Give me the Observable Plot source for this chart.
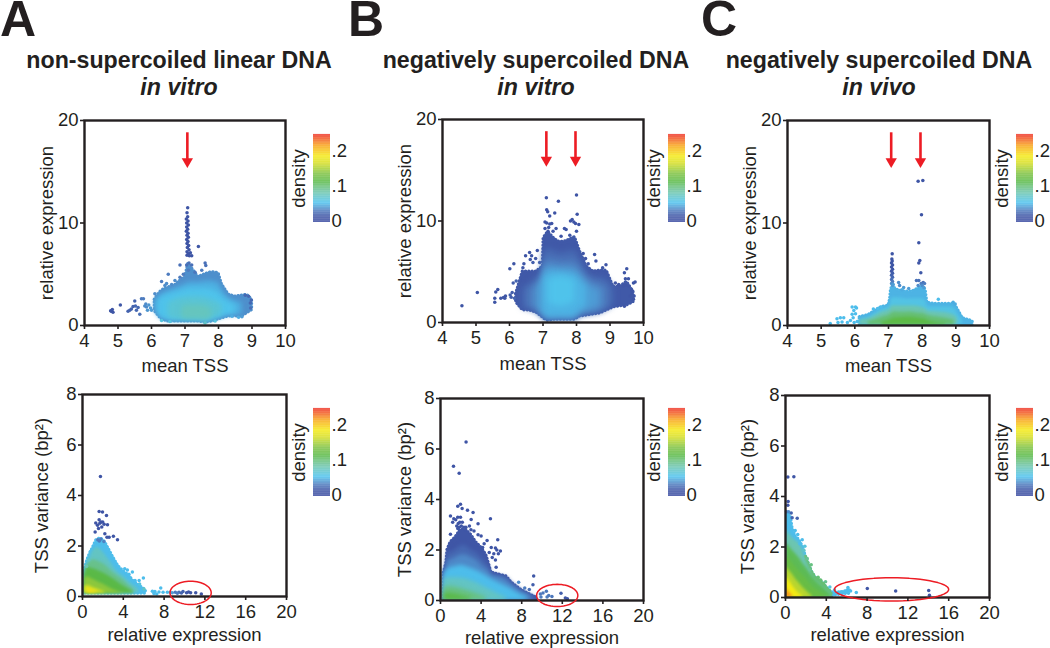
<!DOCTYPE html>
<html><head><meta charset="utf-8">
<script src="https://cdn.jsdelivr.net/npm/d3@7"></script>
<script src="https://cdn.jsdelivr.net/npm/@observablehq/plot@0.6"></script>
<style>
html,body{margin:0;padding:0;background:#fff}
#page{position:relative;width:1050px;height:648px;overflow:hidden;font-family:"Liberation Sans",Arial,sans-serif;color:#231f20}
#page svg{position:absolute;overflow:visible;background:transparent}
.letter{position:absolute;font-weight:bold;font-size:50px;line-height:36px;height:36px;top:1px}
.title{position:absolute;font-weight:bold;font-size:23.2px;line-height:27px;text-align:center;width:340px;top:47px}
.title i{display:block}
</style></head><body><div id="page"></div>
<script>
// Density colour ramp
const densityStops  = [-0.005,0.015,0.03,0.052,0.08,0.10,0.112,0.135,0.165,0.185,0.215,0.235,0.25];
const densityColors = ["#3b4ba0","#3f57a6","#4e7cbf","#4dc3ef","#6cc5b0","#66bf73","#58b947","#7dc242","#d5de26","#f4ea14","#f9a51a","#f15a24","#ee2a24"];
const densityTicks  = [0,0.1,0.2];

const topXTicks = [4,5,6,7,8,9,10];
const topYTicks = [0,10,20];
const botXTicks = [0,4,8,12,16,20];
const botYTicks = [0,2,4,6,8];

// ---- Panel A top: mean TSS vs relative expression
const aTopX = [6.1,6.2,6.3,6.5,6.7,6.9,7.0,7.1,7.2,7.4,7.6,7.8,8.0,8.1,8.3,8.5,8.7,8.85,9.0];
const aTopBands = [
 [0.036,[2.5,3.0,3.4,3.7,3.9,4.5,4.6,6.0,5.6,4.7,5.0,5.2,5.1,4.0,3.0,2.8,2.9,3.0,2.5],[1.4,1.0,0.6,0.4,0.4,0.4,0.4,0.4,0.4,0.4,0.3,0.4,0.6,0.7,0.9,0.9,0.9,1.2,1.5]],
 [0.046,[2.3,2.8,3.1,3.4,3.6,3.9,4.0,4.2,4.2,4.2,4.3,4.3,4.1,3.5,2.7,2.4,2.2,null,null],[1.5,1.1,0.7,0.5,0.5,0.5,0.5,0.5,0.5,0.5,0.4,0.5,0.7,0.8,1.0,1.0,1.1,null,null]],
 [0.054,[null,2.4,2.7,3.0,3.2,3.4,3.5,3.6,3.6,3.6,3.6,3.5,3.2,2.8,2.3,2.0,null,null,null],[null,1.2,0.8,0.6,0.55,0.55,0.55,0.55,0.55,0.55,0.5,0.6,0.8,0.9,1.1,1.2,null,null,null]],
 [0.064,[null,null,null,2.2,2.5,2.7,2.7,2.8,2.8,2.8,2.7,2.5,2.2,2.0,null,null,null,null,null],[null,null,null,0.8,0.6,0.6,0.6,0.6,0.6,0.6,0.5,0.7,0.9,1.1,null,null,null,null,null]],
 [0.074,[null,null,null,null,null,1.8,1.9,2.0,2.0,2.0,1.9,1.6,null,null,null,null,null,null,null],[null,null,null,null,null,0.65,0.65,0.6,0.6,0.6,0.55,0.8,null,null,null,null,null,null,null]]
];
const aTopDots = [
 [4.8,1.4,.012],[4.83,1.55,.012],[4.85,1.3,.012],[4.78,1.45,.012],[5.07,2.0,.015],[5.3,1.4,.02],[5.35,1.5,.02],[5.4,1.6,.02],[5.45,1.85,.02],[5.5,2.4,.02],[5.52,1.9,.022],[5.55,1.5,.022],[5.6,1.75,.022],[5.65,1.1,.025],[5.7,2.6,.03],[5.76,2.6,.03],[5.8,1.9,.035],[5.85,1.8,.035],[5.88,1.5,.038],[5.92,2.0,.038],[5.97,1.7,.04],[6.0,1.5,.04],[5.83,2.1,.035],
 [6.1,3.1,.035],[6.3,4.3,.03],[6.45,4.1,.035],[6.5,5.0,.03],[6.6,4.0,.035],[6.7,4.4,.035],[6.85,5.9,.025],[6.95,5.0,.03],[6.4,3.9,.035],[6.85,4.7,.03],[7.4,7.7,.015],[7.05,5.9,.025],[7.12,6.1,.025],[7.2,5.9,.025],[7.6,6.1,.025],[7.62,5.85,.025],[7.5,5.4,.03],[7.3,5.2,.028],[7.1,5.4,.03],
 [7.08,11.5,.012],[7.06,11.0,.012],[7.08,10.6,.012],[7.04,10.4,.012],[7.09,10.2,.012],[7.05,10.0,.012],[7.1,9.8,.012],[7.05,9.6,.012],[7.08,9.4,.012],[7.04,9.2,.012],[7.09,9.0,.012],[7.06,8.8,.012],[7.1,8.6,.012],[7.05,8.4,.012],[7.09,8.2,.012],[7.06,8.0,.012],[7.11,7.8,.012],[7.07,7.6,.012],[7.12,7.4,.012],[7.06,7.2,.012],[7.1,7.0,.012],[7.16,7.1,.012],[7.2,6.8,.012],[7.06,6.85,.012],[7.13,6.8,.012],
 [8.95,2.2,.022],[8.9,2.85,.022],[8.8,2.95,.022],[8.98,2.5,.022],[8.96,1.7,.025],[8.4,0.9,.045],[8.6,0.8,.045],[8.7,0.85,.04],[6.3,0.5,.06],[6.55,0.4,.06],[7.6,0.25,.07],[7.9,0.45,.06]
];
const aTopArrows = [7.07];

// ---- Panel B top
const bTopX = [6.2,6.4,6.6,6.8,7.0,7.02,7.15,7.35,7.5,7.7,7.95,8.1,8.3,8.5,8.7,8.9,9.1,9.3,9.5,9.7];
const bTopBands = [
 [0.016,[2.8,5.0,5.0,5.0,5.5,8.3,8.9,8.2,7.9,8.0,8.4,7.0,5.5,5.0,5.1,5.1,3.5,3.5,4.0,3.0],[2.0,1.2,1.2,1.0,0.5,0.4,0.2,0.3,0.3,0.3,0.3,0.6,0.7,0.8,0.9,1.2,1.5,1.6,1.7,2.0]],
 [0.024,[null,3.4,3.8,4.4,5.2,6.9,7.2,7.0,6.8,6.9,7.0,6.2,5.0,4.5,4.4,4.2,3.2,null,null,null],[null,1.4,1.3,1.1,0.6,0.5,0.3,0.35,0.35,0.35,0.35,0.7,0.8,0.9,1.0,1.3,1.7,null,null,null]],
 [0.032,[null,null,3.2,3.8,4.7,5.9,6.2,6.1,6.0,6.0,6.0,5.4,4.5,4.0,3.8,3.4,null,null,null,null],[null,null,1.6,1.2,0.7,0.6,0.35,0.4,0.4,0.4,0.4,0.8,0.9,1.0,1.2,1.6,null,null,null,null]],
 [0.04,[null,null,null,3.4,4.3,5.2,5.5,5.5,5.4,5.4,5.3,4.8,4.0,3.5,3.2,null,null,null,null,null],[null,null,null,1.6,0.8,0.7,0.4,0.45,0.45,0.45,0.45,0.9,1.1,1.3,1.6,null,null,null,null,null]],
 [0.047,[null,null,null,null,3.7,4.5,4.9,5.0,5.0,4.9,4.7,4.2,3.5,null,null,null,null,null,null,null],[null,null,null,null,1.2,1.0,0.6,0.6,0.6,0.6,0.7,1.2,1.6,null,null,null,null,null,null,null]],
 [0.054,[null,null,null,null,null,null,4.1,4.4,4.5,4.4,4.1,null,null,null,null,null,null,null,null,null],[null,null,null,null,null,null,2.0,1.7,1.6,1.7,2.1,null,null,null,null,null,null,null,null,null]]
];
const bTopDots = [
 [4.58,1.64,.012],[5.04,2.96,.012],[5.56,2.4,.012],[5.56,2.0,.012],[5.59,3.0,.012],[5.65,3.25,.012],[5.74,2.4,.015],[5.82,2.46,.015],[5.88,2.6,.015],[5.86,2.4,.015],[6.13,5.8,.012],[6.01,5.3,.012],[6.11,3.9,.018],[6.2,4.1,.02],[6.08,2.96,.018],[6.02,2.7,.018],[6.15,2.4,.02],[6.05,2.5,.018],
 [6.48,6.57,.012],[6.6,6.9,.012],[6.66,6.57,.012],[6.83,7.1,.012],[6.43,5.8,.015],[6.78,6.3,.015],[6.62,6.2,.015],[6.4,5.4,.015],[6.7,5.9,.018],[6.9,5.9,.02],
 [7.1,12.3,.01],[7.46,11.95,.01],[8.0,12.55,.01],[7.11,11.1,.01],[7.14,10.9,.01],[7.2,10.5,.01],[7.35,10.8,.01],[7.06,9.9,.01],[7.11,9.8,.01],[7.2,9.7,.01],[7.26,9.75,.01],[7.17,9.35,.01],[7.06,9.26,.01],[7.64,9.26,.01],[7.69,9.16,.01],[7.39,9.26,.01],[7.87,10.15,.01],[7.82,10.0,.01],[7.92,9.9,.01],[8.02,10.67,.01],[7.97,9.75,.01],[8.07,9.65,.01],[7.8,8.6,.012],[7.54,8.5,.012],[8.0,9.0,.012],[7.3,9.0,.012],[7.15,9.0,.012],
 [8.54,6.7,.012],[8.58,6.07,.012],[8.88,5.68,.012],[8.78,5.4,.015],[8.27,6.3,.014],[8.2,6.8,.012],[8.35,5.8,.015],[9.5,5.3,.012],[9.43,4.9,.012],[9.7,3.9,.012],[9.75,4.0,.012],[9.46,4.3,.012],[9.55,4.3,.012],[9.4,3.6,.014],[9.46,3.7,.014],[9.55,3.6,.014],[9.7,2.3,.012],[9.43,1.6,.014],[9.65,3.2,.012],[9.6,2.6,.014],[9.16,3.9,.012],[9.26,3.74,.012],[9.66,2.9,.012],[9.72,2.6,.012]
];
const bTopArrows = [7.1,7.97];

// ---- Panel C top
const cTopX = [6.15,6.4,6.6,6.8,7.0,7.05,7.08,7.15,7.3,7.5,7.7,7.9,8.0,8.1,8.15,8.4,8.7,8.95,9.05,9.2,9.5];
const cTopBands = [
 [0.047,[0.8,1.0,1.4,1.8,1.9,2.5,3.6,3.7,3.4,3.3,3.3,3.6,3.8,3.5,2.2,2.1,2.1,2.1,1.6,0.7,0.4],[0.05,0.05,0.05,0.05,0.05,0.05,0.05,0.05,0.05,0.05,0.05,0.05,0.05,0.05,0.05,0.05,0.05,0.05,0.05,0.05,0.05]],
 [0.057,[0.6,0.8,1.2,1.6,1.8,2.0,2.6,2.7,2.7,2.6,2.6,2.6,2.6,2.4,1.9,1.8,1.8,1.7,1.2,0.5,null],[0.05,0.05,0.05,0.05,0.05,0.05,0.05,0.05,0.05,0.05,0.05,0.05,0.05,0.05,0.05,0.05,0.05,0.05,0.05,0.05,null]],
 [0.08,[0.5,0.65,0.95,1.3,1.5,1.6,1.85,1.9,1.9,1.9,1.9,1.85,1.75,1.65,1.45,1.35,1.25,1.0,0.7,null,null],[0.05,0.05,0.05,0.05,0.05,0.05,0.05,0.05,0.05,0.05,0.05,0.05,0.05,0.05,0.05,0.05,0.05,0.05,0.05,null,null]],
 [0.1,[null,0.35,0.55,0.8,1.0,1.1,1.2,1.3,1.3,1.3,1.3,1.2,1.2,1.1,1.0,0.85,0.7,0.5,null,null,null],[null,0.05,0.05,0.05,0.05,0.05,0.05,0.05,0.05,0.05,0.05,0.05,0.05,0.05,0.05,0.05,0.05,0.05,null,null,null]],
 [0.115,[null,null,null,0.3,0.5,0.55,0.6,0.7,0.75,0.8,0.8,0.7,0.65,0.6,0.5,0.3,0.2,null,null,null,null],[null,null,null,0.05,0.05,0.05,0.05,0.05,0.05,0.05,0.05,0.05,0.05,0.05,0.05,0.05,0.05,null,null,null,null]]
];
const cTopDots = [
 [7.88,14.08,.012],[8.02,14.15,.012],[7.98,10.8,.012],[7.9,8.07,.012],[7.93,6.34,.014],[7.9,6.1,.014],[7.96,5.14,.016],[7.83,4.4,.025],[7.9,4.4,.025],[8.03,4.2,.025],[7.97,4.1,.03],[8.07,4.1,.03],[7.88,3.9,.035],[8.0,3.9,.035],[8.05,3.7,.04],
 [7.11,7.0,.012],[7.1,6.5,.012],[7.11,6.3,.012],[7.09,6.1,.012],[7.12,5.9,.012],[7.09,5.7,.014],[7.12,5.5,.014],[7.09,5.3,.016],[7.12,5.1,.018],[7.09,4.9,.02],[7.12,4.7,.022],[7.09,4.5,.025],[7.12,4.3,.03],[7.09,4.1,.035],[7.12,3.9,.04],[7.14,4.0,.04],
 [5.27,.2,.05],[5.47,.65,.05],[5.57,.75,.05],[5.67,.75,.05],[5.5,.3,.05],[5.62,.35,.05],[5.78,.3,.05],[5.92,1.8,.05],[6.02,1.8,.05],[5.97,1.46,.05],[6.02,1.14,.05],[5.92,1.1,.05],[5.87,.5,.05],[6.07,.4,.05],[5.95,.75,.05],[6.05,1.7,.05],[5.98,.3,.05],
 [7.3,4.2,.035],[7.33,3.9,.035],[7.45,3.7,.04],[7.6,3.6,.04],[7.4,3.5,.045],[8.48,2.55,.05],[8.92,2.28,.045],[6.78,1.8,.05],[6.55,1.6,.05],[6.68,1.65,.05],[8.98,2.1,.045]
];
const cTopArrows = [7.08,7.95];

// ---- Panel A bottom: relative expression vs TSS variance
const aBotX = [0.2,0.5,0.8,1.0,1.4,1.8,2.2,2.6,3.0,3.5,4.0,4.5,5.0,5.5,6.0,6.2];
const aBotBands = [
 [0.05,[1.0,1.45,1.75,1.9,2.25,2.3,2.15,1.85,1.55,1.2,1.0,0.85,0.6,0.45,0.3,0.25],[0.12,0.12,0.12,0.12,0.12,0.12,0.12,0.12,0.12,0.12,0.12,0.12,0.12,0.12,0.12,0.12]],
 [0.072,[0.95,1.35,1.6,1.8,1.95,1.85,1.65,1.45,1.2,0.95,0.8,0.6,0.45,0.3,null,null],[0.13,0.13,0.13,0.13,0.13,0.13,0.13,0.13,0.13,0.13,0.13,0.13,0.13,0.13,null,null]],
 [0.092,[0.9,1.25,1.4,1.45,1.42,1.35,1.25,1.1,0.95,0.8,0.65,0.45,0.3,null,null,null],[0.13,0.13,0.13,0.13,0.13,0.13,0.13,0.13,0.13,0.13,0.13,0.13,0.13,null,null,null]],
 [0.113,[0.85,1.15,1.12,1.1,1.05,0.97,0.9,0.8,0.7,0.55,0.42,0.3,0.18,null,null,null],[0.13,0.13,0.13,0.13,0.13,0.13,0.13,0.13,0.13,0.13,0.13,0.13,0.13,null,null,null]],
 [0.14,[0.7,0.78,0.72,0.68,0.6,0.52,0.45,0.36,0.28,0.2,0.15,null,null,null,null,null],[0.13,0.13,0.13,0.13,0.13,0.13,0.13,0.13,0.13,0.13,0.13,null,null,null,null,null]],
 [0.17,[0.4,0.44,0.4,0.36,0.3,0.24,0.18,null,null,null,null,null,null,null,null,null],[0.14,0.14,0.14,0.14,0.14,0.14,0.14,null,null,null,null,null,null,null,null,null]],
 [0.19,[null,0.29,0.26,0.23,0.18,null,null,null,null,null,null,null,null,null,null,null],[null,0.14,0.14,0.14,0.14,null,null,null,null,null,null,null,null,null,null,null]]
];
const aBotDots = [
 [1.76,4.75,.01],[1.63,3.37,.01],[1.96,3.35,.01],[2.35,3.21,.01],[1.3,2.91,.01],[1.63,3.04,.01],[1.8,2.95,.01],[1.98,2.95,.01],[2.12,2.86,.01],[2.45,2.84,.01],[1.47,2.82,.01],[1.57,2.69,.01],[1.89,2.75,.01],[1.24,2.55,.01],[2.19,2.49,.012],[2.61,2.35,.014],[3.03,2.39,.012],[3.43,2.25,.012],[2.4,2.35,.014],[1.7,2.9,.01],
 [1.5,2.25,.03],[1.8,2.28,.03],[2.1,2.18,.032],[1.65,2.2,.03],
 [0.6,1.45,.07],[0.4,1.2,.08],[4.14,1.1,.05],[4.89,.97,.05],[4.55,.88,.05],[5.15,.63,.05],[5.55,.63,.05],[5.97,.73,.05],[5.6,.5,.06],[6.03,.3,.07],[4.4,1.05,.05],
 [6.85,.21,.05],[7.0,.12,.05],[7.28,.1,.05],[7.67,.34,.05],[7.1,.2,.05],[7.5,.18,.05],[7.9,.17,.05],[8.32,.17,.05],[8.6,.17,.05],[8.8,.15,.04],[9.1,.17,.03],[9.46,.17,.025],[9.85,.2,.02],[10.2,.15,.016],[10.6,.15,.014],[11.1,.15,.012],[11.65,.1,.012],[9.3,.13,.03],[9.7,.14,.02],[10.4,.18,.015]
];
const aBotEllipse = [10.6,0.145,2.02,0.46];

// ---- Panel B bottom
const bBotX = [0.35,0.6,0.7,1.0,1.5,2.0,2.5,3.0,3.5,4.0,4.5,4.8,5.0,5.5,6.0,6.5,7.0,7.5,8.0,8.5,9.0,9.5];
const bBotBands = [
 [0.014,[1.1,1.5,2.0,2.3,2.5,2.8,2.8,2.6,2.3,2.1,1.8,1.4,1.1,1.05,1.0,0.95,0.7,0.55,0.4,0.3,0.2,0.1],[0,0,0,0,0,0,0,0,0,0,0,0,0,0,0,0,0,0,0,0,0,0]],
 [0.022,[1.1,1.5,1.85,1.9,2.0,2.15,2.15,2.0,1.9,1.7,1.5,1.3,1.05,1.0,0.95,0.9,0.68,0.52,0.38,0.28,0.18,0.08],[0,0,0,0,0,0,0,0,0,0,0,0,0,0,0,0,0,0,0,0,0,0]],
 [0.034,[1.08,1.3,1.55,1.6,1.7,1.8,1.8,1.7,1.6,1.4,1.25,1.15,1.0,0.95,0.9,0.8,0.62,0.48,0.34,0.25,0.16,null],[0,0,0,0,0,0,0,0,0,0,0,0,0,0,0,0,0,0,0,0,0,null]],
 [0.05,[1.05,1.2,1.25,1.3,1.35,1.4,1.35,1.28,1.2,1.1,0.98,0.9,0.85,0.75,0.65,0.55,0.45,0.33,0.22,0.15,null,null],[0,0,0,0,0,0,0,0,0,0,0,0,0,0,0,0,0,0,0,0,null,null]],
 [0.072,[0.85,0.9,0.9,0.9,0.9,0.88,0.85,0.78,0.7,0.6,0.5,0.45,0.4,0.3,0.2,0.12,null,null,null,null,null,null],[0,0,0,0,0,0,0,0,0,0,0,0,0,0,0,0,null,null,null,null,null,null]],
 [0.095,[0.55,0.55,0.55,0.55,0.52,0.48,0.42,0.35,0.28,0.2,0.13,null,null,null,null,null,null,null,null,null,null,null],[0,0,0,0,0,0,0,0,0,0,0,null,null,null,null,null,null,null,null,null,null,null]],
 [0.113,[0.3,0.3,0.3,0.28,0.25,0.2,0.15,0.1,null,null,null,null,null,null,null,null,null,null,null,null,null,null],[0,0,0,0,0,0,0,0,null,null,null,null,null,null,null,null,null,null,null,null,null,null]]
];
const bBotDots = [
 [2.52,6.28,.01],[1.28,5.32,.01],[1.84,5.04,.01],[1.97,3.81,.01],[1.7,3.73,.01],[2.13,3.64,.01],[2.66,3.57,.01],[3.21,3.49,.01],[0.98,3.35,.01],[1.31,3.24,.01],[1.7,3.3,.01],[1.97,3.3,.01],[4.92,3.24,.01],[3.02,3.21,.01],[3.7,3.04,.01],[0.98,2.62,.01],[4.0,2.55,.01],[4.59,2.38,.01],[5.64,2.41,.01],[5.41,2.08,.01],[5.9,1.96,.01],[5.25,1.85,.01],[5.7,1.85,.01],[5.41,1.6,.012],[5.48,1.32,.012],[5.55,2.0,.01],
 [1.2,3.1,.01],[1.5,3.2,.01],[1.9,3.1,.01],[2.15,3.1,.01],[1.6,2.95,.01],[1.75,3.05,.01],[1.85,2.9,.012],[2.05,2.95,.012],[2.3,2.9,.012],[1.7,2.85,.012],[2.5,2.9,.012],[3.3,2.75,.012],[3.0,2.8,.012],[2.85,2.95,.012],[3.7,2.6,.012],[4.3,2.25,.012],[4.15,2.1,.012],[5.0,2.1,.012],[4.8,1.9,.012],[5.1,1.7,.012],
 [9.18,.97,.015],[9.11,.62,.018],[8.75,.44,.025],[8.3,.5,.03],[7.7,.72,.035],[11.87,.29,.018],[9.84,.26,.028],[10.43,.37,.028],[10.1,.3,.028],[10.66,.2,.028],[10.98,.16,.028],[12.3,.1,.014],[12.5,.07,.014],[9.9,.14,.03],[10.5,.14,.03]
];
const bBotEllipse = [11.5,0.2,2.03,0.44];

// ---- Panel C bottom
const cBotX = [0.05,0.3,0.5,0.7,1.0,1.3,1.7,2.0,2.3,2.6,3.0,3.5,4.0,4.5,5.0,5.5,6.0,6.3];
const cBotBands = [
 [0.05,[3.3,3.3,3.2,2.7,2.4,2.3,2.0,1.6,1.3,1.0,0.75,0.65,0.4,0.2,0.2,0.2,0.25,0.2],[0,0,0,0,0,0,0,0,0,0,0,0,0.05,0.05,0.1,0.12,0.15,0.15]],
 [0.1,[null,null,null,null,null,null,null,1.6,1.3,1.0,0.75,0.65,0.4,0.2,null,null,null,null],[null,null,null,null,null,null,null,0,0,0,0,0,0,0,null,null,null,null],true],
 [0.08,[2.7,2.55,2.45,2.35,2.25,2.15,1.85,1.5,1.2,0.9,0.65,0.5,0.32,0.12,null,null,null,null],[0,0,0,0,0,0,0,0,0,0,0,0,0,0,null,null,null,null]],
 [0.108,[2.2,2.05,1.95,1.85,1.72,1.58,1.35,1.2,1.02,0.85,0.65,0.48,0.3,0.1,null,null,null,null],[0,0,0,0,0,0,0,0,0,0,0,0,0,0,null,null,null,null]],
 [0.122,[1.7,1.55,1.45,1.35,1.2,1.05,0.88,0.75,0.6,0.46,0.32,0.18,0.06,null,null,null,null,null],[0,0,0,0,0,0,0,0,0,0,0,0,0,null,null,null,null,null]],
 [0.155,[1.25,1.1,1.0,0.9,0.72,0.58,0.4,0.28,0.16,0.08,null,null,null,null,null,null,null,null],[0,0,0,0,0,0,0,0,0,0,null,null,null,null,null,null,null,null]],
 [0.185,[0.85,0.7,0.58,0.46,0.3,0.17,0.06,null,null,null,null,null,null,null,null,null,null,null],[0,0,0,0,0,0,0,null,null,null,null,null,null,null,null,null,null,null]],
 [0.22,[0.38,0.24,0.14,0.06,null,null,null,null,null,null,null,null,null,null,null,null,null,null],[0,0,0,0,null,null,null,null,null,null,null,null,null,null,null,null,null,null]]
];
const cBotDots = [
 [.23,4.77,.012],[.82,4.78,.012],[.26,3.8,.014],[.23,3.65,.014],[.56,3.35,.02],[1.15,3.14,.02],[.65,3.16,.02],[.1,3.4,.03],[.3,3.4,.035],[1.64,2.29,.05],[1.41,2.13,.05],[1.9,2.03,.06],[1.8,1.87,.07],[2.13,1.54,.09],[2.52,1.3,.095],[2.95,.74,.1],[3.44,.69,.1],[3.93,.62,.09],[2.4,1.1,.09],[1.2,2.5,.05],[0.95,2.65,.05],[3.2,.8,.1],[3.7,.55,.1],
 [4.35,.42,.06],[4.8,.3,.055],[5.4,.22,.05],[5.75,.22,.05],[6.12,.4,.05],[6.38,.26,.05],[6.05,.3,.05],[6.25,.3,.05],[6.94,.2,.05],[8.02,.36,.014],[10.8,.26,.012],[14.04,.28,.012],[14.11,.09,.012]
];
const cBotEllipse = [10.4,0.32,5.6,0.46];

const colorOpts = {type:"linear",domain:densityStops,range:densityColors};
const ink = "#231f20";
const red = "#ed1c24";

function rows(xs,hi,lo,d){
  return xs.flatMap((x,i)=> hi[i]==null ? [] : [{x,hi:hi[i],lo:lo[i],density:d}]);
}
function ellipsePts(e){
  const [cx,cy,rx,ry]=e;
  return d3.range(0,361,6).map(a=>({x:cx+rx*Math.cos(a*Math.PI/180),y:cy+ry*Math.sin(a*Math.PI/180)}));
}

const M = {l:70,r:12,t:12,b:56};
function panel(o){
  const w=o.R-o.L, h=o.B-o.T;
  const marks=[];
  const blur=`blur(${o.blur||1.5}px)`;
  o.bandsX && o.bands.forEach((b,i)=>{
    const r=rows(o.bandsX,b[1],b[2],b[0]);
    if(i===0||b[3]){
      marks.push(Plot.areaY(r,{x:"x",y1:"lo",y2:"hi",fill:"density",stroke:"density",strokeWidth:3.4,strokeLinecap:"round",strokeLinejoin:"round",strokeDasharray:"0.1 3.2",clip:"frame"}));
    }else{
      marks.push(Plot.areaY(r,{x:"x",y1:"lo",y2:"hi",fill:"density",curve:"catmull-rom",clip:"frame",imageFilter:blur}));
    }
  });
  marks.push(Plot.dot(o.dots,{x:d=>d[0],y:d=>d[1],fill:d=>d[2],r:1.75,clip:false}));
  if(o.arrows){
    marks.push(Plot.ruleX(o.arrows,{x:d=>d,y1:18.8,y2:16.2,stroke:red,strokeWidth:2.6}));
    marks.push(Plot.dot(o.arrows,{x:d=>d,y:()=>16.0,symbol:"triangle",rotate:180,r:4.2,fill:red}));
  }
  marks.push(Plot.frame({stroke:ink,strokeWidth:2.4}));
  if(o.ellipse){
    marks.push(Plot.line(ellipsePts(o.ellipse),{x:"x",y:"y",stroke:red,strokeWidth:1.5,curve:"linear"}));
  }
  marks.push(Plot.axisX({ticks:o.xTicks,tickSize:4,tickPadding:4,strokeWidth:1.6,tickFormat:d=>d,label:o.xLabel,labelAnchor:"center",labelArrow:"none",labelOffset:o.xOff,fontSize:18.5,color:ink}));
  marks.push(Plot.axisY({ticks:o.yTicks,tickSize:4,tickPadding:2,strokeWidth:1.6,tickFormat:d=>d,label:o.yLabel,labelAnchor:"center",labelArrow:"none",labelOffset:o.yOff,fontSize:18.5,color:ink}));
  const svg=Plot.plot({
    width:w+M.l+M.r,height:h+M.t+M.b,
    marginLeft:M.l,marginRight:M.r,marginTop:M.t,marginBottom:M.b,
    x:{domain:o.xDomain,axis:null},y:{domain:o.yDomain,axis:null},
    color:colorOpts,
    style:{fontFamily:"'Liberation Sans',Arial,sans-serif",background:"transparent",color:ink,overflow:"visible"},
    marks
  });
  svg.style.left=(o.L-M.l)+"px"; svg.style.top=(o.T-M.t)+"px";
  document.getElementById("page").appendChild(svg);
}
function colorbar(left,top){
  const barW=17,barH=88;
  const ml=40,mr=20;
  const steps=d3.range(-0.004,0.248,0.002);
  const svg=Plot.plot({
    width:barW+ml+mr,height:barH+8,marginLeft:ml,marginRight:mr,marginTop:4,marginBottom:4,
    x:{domain:[0,1],axis:null},y:{domain:[-0.004,0.248],axis:null},color:colorOpts,
    style:{fontFamily:"'Liberation Sans',Arial,sans-serif",background:"transparent",color:ink,overflow:"visible"},
    marks:[
      Plot.rect(steps,{x1:()=>0,x2:()=>1,y1:d=>d,y2:d=>d+0.0022,fill:d=>d+0.001}),
      Plot.axisY({anchor:"right",ticks:densityTicks,tickSize:0,tickPadding:1,tickFormat:d=>d===0?"0":String(d).replace("0.","."),label:null,fontSize:18.5,color:ink}),
      Plot.text(["density"],{frameAnchor:"left",textAnchor:"middle",rotate:-90,dx:-14,fontSize:18.5,fill:ink})
    ]
  });
  svg.style.left=(left-ml)+"px"; svg.style.top=(top-4)+"px";
  document.getElementById("page").appendChild(svg);
}

const topCommon={xDomain:[4,10],yDomain:[0,20],xTicks:topXTicks,yTicks:topYTicks,xLabel:"mean TSS",yLabel:"relative expression"};
const botCommon={xDomain:[0,20],yDomain:[0,8],xTicks:botXTicks,yTicks:botYTicks,xLabel:"relative expression",yLabel:"TSS variance (bp²)"};

panel({...topCommon,L:84,R:285,T:120,B:325,xOff:46,yOff:45,bandsX:aTopX,bands:aTopBands,dots:aTopDots,arrows:aTopArrows,blur:2.5});
panel({...topCommon,L:442,R:643,T:119,B:322,xOff:47,yOff:45,bandsX:bTopX,bands:bTopBands,dots:bTopDots,arrows:bTopArrows,blur:3});
panel({...topCommon,L:787,R:989,T:120,B:325,xOff:46,yOff:45,bandsX:cTopX,bands:cTopBands,dots:cTopDots,arrows:cTopArrows});
panel({...botCommon,L:82,R:286,T:394,B:596,xOff:44,yOff:48,bandsX:aBotX,bands:aBotBands,dots:aBotDots,ellipse:aBotEllipse});
panel({...botCommon,L:440,R:643,T:398,B:600,xOff:43,yOff:43,bandsX:bBotX,bands:bBotBands,dots:bBotDots,ellipse:bBotEllipse,blur:2});
panel({...botCommon,L:785,R:989,T:395,B:597,xOff:43,yOff:45,bandsX:cBotX,bands:cBotBands,dots:cBotDots,ellipse:cBotEllipse});

[[313,134],[668,134],[1016,134],[313,408],[668,408],[1016,408]].forEach(p=>colorbar(p[0],p[1]));

const titles=[["A",0,"non-supercoiled linear DNA","in vitro",179],["B",348,"negatively supercoiled DNA","in vitro",536],["C",701,"negatively supercoiled DNA","in vivo",879]];
const page=document.getElementById("page");
titles.forEach(t=>{
  const l=document.createElement("div");l.className="letter";l.style.left=t[1]+"px";l.textContent=t[0];page.appendChild(l);
  const d=document.createElement("div");d.className="title";d.style.left=(t[4]-170)+"px";
  d.append(t[2]);const i=document.createElement("i");i.textContent=t[3];d.appendChild(i);page.appendChild(d);
});
</script></body></html>
